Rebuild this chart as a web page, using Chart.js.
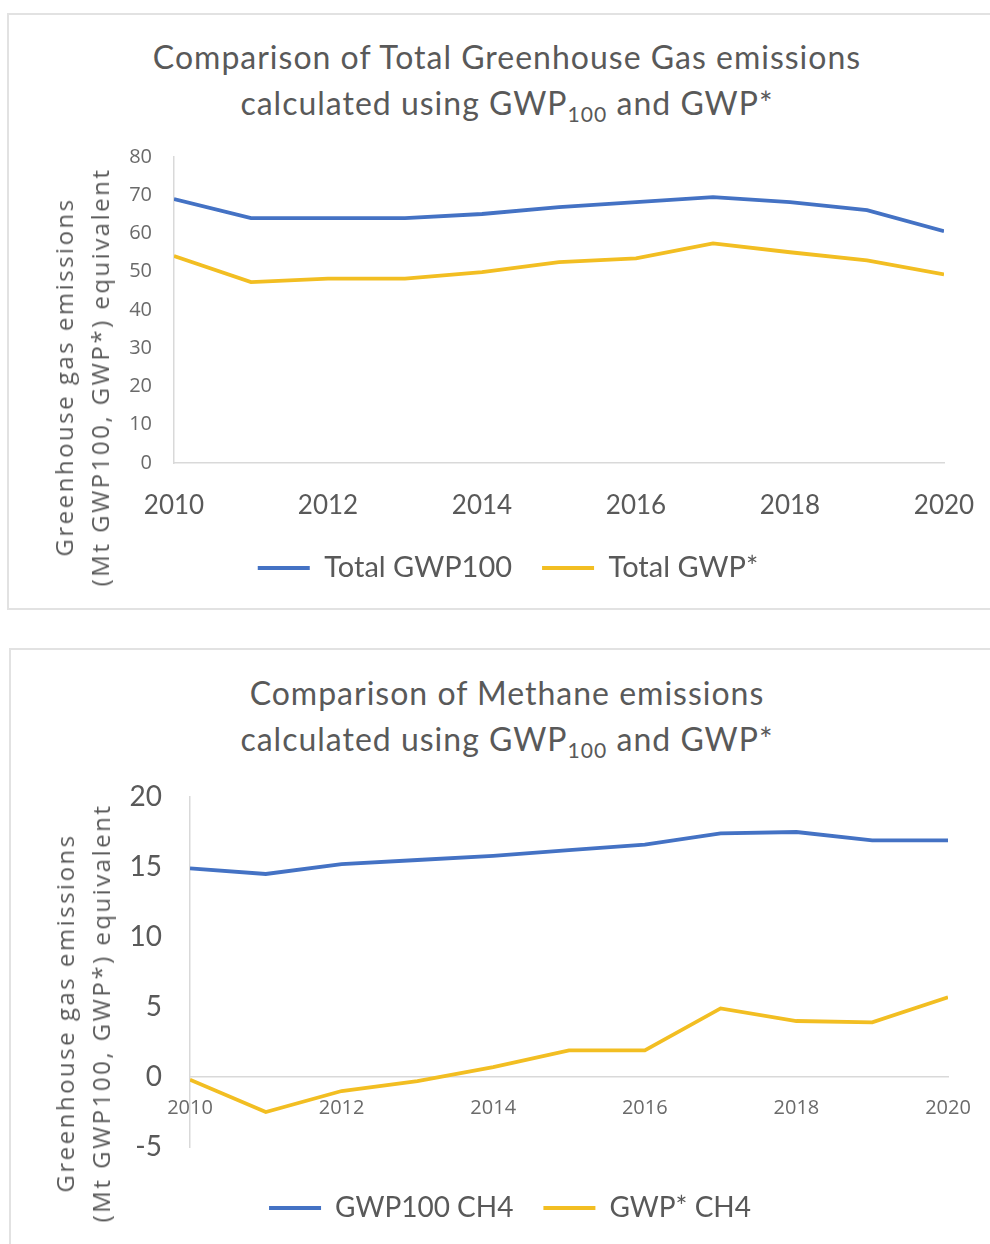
<!DOCTYPE html>
<html>
<head>
<meta charset="utf-8">
<script src="https://cdn.jsdelivr.net/npm/chart.js@4.4.1/dist/chart.umd.min.js"></script>
<style>
  body { margin: 0; width: 990px; height: 1244px; overflow: hidden; background: #fff; position: relative; }
  .panel { position: absolute; border: 2px solid #e2e2e2; box-sizing: border-box; }
  .title { position: absolute; left: 0; width: 1014px; text-align: center; font-family: Lato, sans-serif;
           font-size: 32px; letter-spacing: 1px; line-height: 46px; color: #595959; white-space: nowrap; }
  .title span { font-size: 0.66em; position: relative; top: 0.35em; }
  .ytitle { position: absolute; font-family: "Open Sans", sans-serif; font-size: 24px; line-height: 36px;
            letter-spacing: 2.5px; color: #595959; white-space: nowrap; text-align: center;
            transform: translate(-50%, -50%) rotate(-90deg); }
  canvas { position: absolute; left: 0; }
</style>
</head>
<body>
<div class="panel" style="left:7px; top:13px; width:1000px; height:597px"></div>
<div class="panel" style="left:9px; top:648px; width:1000px; height:640px"></div>

<div class="title" style="top:34px">Comparison of Total Greenhouse Gas emissions<br>calculated using GWP<span>100</span> and GWP*</div>
<div class="title" style="top:670px">Comparison of Methane emissions<br>calculated using GWP<span>100</span> and GWP*</div>

<canvas id="total" width="990" height="620" style="top:0"></canvas>
<canvas id="methane" width="990" height="650" style="top:630px"></canvas>

<div class="ytitle" style="left:82px; top:377px">Greenhouse gas emissions<br>(Mt GWP100, GWP*) equivalent</div>
<div class="ytitle" style="left:83px; top:1013px">Greenhouse gas emissions<br>(Mt GWP100, GWP*) equivalent</div>

<script>
const years = [2010, 2011, 2012, 2013, 2014, 2015, 2016, 2017, 2018, 2019, 2020];

// chart 1 - total GHG
const totalGwp100 = [69, 64, 64, 64, 65.1, 66.9, 68.2, 69.5, 68.2, 66.1, 60.6];
const totalGwpStar = [54.1, 47.3, 48.2, 48.2, 49.9, 52.5, 53.5, 57.4, 55.1, 53, 49.3];

// chart 2 - methane
const ch4Gwp100 = [14.9, 14.5, 15.2, 15.5, 15.8, 16.2, 16.6, 17.4, 17.5, 16.9, 16.9];
const ch4GwpStar = [-0.2, -2.5, -1.0, -0.3, 0.7, 1.9, 1.9, 4.9, 4.0, 3.9, 5.7];

const BLUE = '#4472C4';
const GOLD = '#F2BE22';
const TEXT = '#595959';
const AXIS = '#d9d9d9';

Chart.defaults.font.family = 'Lato, sans-serif';
Chart.defaults.color = TEXT;

function line(label, data, color) {
  return {
    label: label,
    data: data,
    borderColor: color,
    backgroundColor: color,
    borderWidth: 3.8,
    pointRadius: 0,
    tension: 0
  };
}

function legendOpts(size, extraTop) {
  return {
    position: 'bottom',
    title: { display: extraTop > 0, text: '', font: { size: extraTop / 1.2 }, padding: 0 },
    labels: {
      usePointStyle: true,
      pointStyle: 'line',
      pointStyleWidth: 52,
      padding: 30,
      color: TEXT,
      font: { size: size }
    }
  };
}

new Chart(document.getElementById('total'), {
  type: 'line',
  data: {
    labels: years,
    datasets: [line('Total GWP100', totalGwp100, BLUE), line('Total GWP*', totalGwpStar, GOLD)]
  },
  options: {
    responsive: false,
    animation: false,
    layout: { padding: { left: 72, right: 46, top: 157, bottom: 27.5 } },
    plugins: { legend: legendOpts(29, 0), tooltip: { enabled: false } },
    scales: {
      x: {
        type: 'linear', min: 2010, max: 2020,
        grid: { display: false, drawTicks: false },
        border: { color: AXIS, width: 1.5 },
        ticks: { stepSize: 2, padding: 27, maxRotation: 0, font: { size: 26 }, callback: v => String(v) },
        // let the 2020 label hang past the plot edge like the original
        afterFit: s => { s.height = 60.5; s.paddingRight = 0; s.paddingLeft = 0; }
      },
      y: {
        min: 0, max: 80,
        grid: { display: false, drawTicks: false },
        border: { color: AXIS, width: 1.5 },
        ticks: { stepSize: 10, padding: 22, font: { family: '"Open Sans", sans-serif', size: 20 }, color: '#6a6a6a' },
        afterFit: s => { s.width = 102; }
      }
    }
  }
});

new Chart(document.getElementById('methane'), {
  type: 'line',
  data: {
    labels: years,
    datasets: [line('GWP100 CH4', ch4Gwp100, BLUE), line('GWP* CH4', ch4GwpStar, GOLD)]
  },
  options: {
    responsive: false,
    animation: false,
    layout: { padding: { left: 72, right: 42, top: 167, bottom: 48 } },
    plugins: { legend: legendOpts(28, 17), tooltip: { enabled: false } },
    scales: {
      x: {
        type: 'linear', min: 2010, max: 2020,
        position: { y: 0 },
        grid: { display: false, drawTicks: false },
        border: { color: AXIS, width: 1.5 },
        ticks: { stepSize: 2, padding: 19, maxRotation: 0, font: { family: '"Open Sans", sans-serif', size: 20 }, color: '#6a6a6a', callback: v => String(v) }
      },
      y: {
        min: -5, max: 20,
        grid: { display: false, drawTicks: false },
        border: { color: AXIS, width: 1.5 },
        ticks: { stepSize: 5, padding: 28, font: { size: 28 } },
        afterFit: s => { s.width = 118; }
      }
    }
  }
});
</script>
</body>
</html>
